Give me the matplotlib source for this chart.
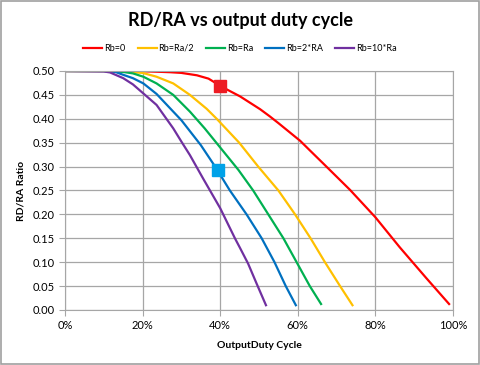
import matplotlib.pyplot as plt
from matplotlib.ticker import PercentFormatter

plt.rcParams['font.family'] = ['Lato', 'DejaVu Sans']

# duty cycle (fraction) vs RD/RA ratio
d_rb0 = [0, 0.1, 0.15, 0.2, 0.236, 0.27, 0.30, 0.34, 0.37, 0.40, 0.425, 0.451, 0.503, 0.528, 0.55,
         0.606, 0.631, 0.67, 0.735, 0.80, 0.863, 0.932, 0.99]
r_rb0 = [0.5, 0.5, 0.5, 0.4995, 0.4985, 0.4975, 0.496, 0.491, 0.484, 0.469, 0.458, 0.447, 0.42, 0.405,
         0.391, 0.354, 0.334, 0.303, 0.251, 0.194, 0.131, 0.066, 0.0125]

d_half = [0, 0.1, 0.15, 0.2, 0.236, 0.279, 0.322, 0.365, 0.391, 0.449, 0.498, 0.55, 0.593, 0.633,
          0.67, 0.709, 0.741]
r_half = [0.5, 0.5, 0.499, 0.496, 0.488, 0.474, 0.45, 0.421, 0.40, 0.35, 0.30, 0.25, 0.20, 0.15,
          0.10, 0.05, 0.01]

d_one = [0, 0.1, 0.15, 0.175, 0.202, 0.236, 0.279, 0.322, 0.36, 0.40, 0.447, 0.485, 0.524, 0.563,
         0.597, 0.631, 0.66]
r_one = [0.5, 0.5, 0.498, 0.495, 0.488, 0.474, 0.45, 0.415, 0.38, 0.34, 0.293, 0.25, 0.20, 0.15,
         0.10, 0.05, 0.0125]

d_two = [0, 0.1, 0.13, 0.15, 0.175, 0.202, 0.236, 0.279, 0.30, 0.35, 0.387, 0.425, 0.468, 0.507,
         0.54, 0.569, 0.595]
r_two = [0.5, 0.5, 0.498, 0.492, 0.485, 0.474, 0.452, 0.415, 0.397, 0.345, 0.30, 0.25, 0.20, 0.15,
         0.10, 0.05, 0.01]

d_ten = [0, 0.1, 0.116, 0.15, 0.175, 0.202, 0.236, 0.279, 0.301, 0.322, 0.356, 0.40, 0.438, 0.451,
         0.472, 0.494, 0.518]
r_ten = [0.5, 0.499, 0.497, 0.485, 0.472, 0.453, 0.429, 0.38, 0.351, 0.324, 0.275, 0.213, 0.15,
         0.13, 0.097, 0.055, 0.01]

series = [
    ('Rb=0', d_rb0, r_rb0, '#FF0000'),
    ('Rb=Ra/2', d_half, r_half, '#FFC000'),
    ('Rb=Ra', d_one, r_one, '#00B050'),
    ('Rb=2*RA', d_two, r_two, '#0070C0'),
    ('Rb=10*Ra', d_ten, r_ten, '#7030A0'),
]

# highlighted points
mark_x = [0.40, 0.395]
mark_y = [0.468, 0.293]
mark_c = ['#ED1C24', '#00A2E8']

fig = plt.figure(figsize=(4.8, 3.65), dpi=100)
ax = fig.add_axes([0.1354, 0.1507, 0.8083, 0.6548])

for name, x, y, c in series:
    ax.plot(x, y, color=c, lw=1.6, label=name, solid_joinstyle='round')

for x, y, c in zip(mark_x, mark_y, mark_c):
    ax.plot(x, y, marker='s', ms=9, color=c, zorder=5)

ax.set_xlim(0, 1)
ax.set_ylim(0, 0.5)
ax.set_xticks([0, 0.2, 0.4, 0.6, 0.8, 1.0])
ax.set_yticks([i * 0.05 for i in range(11)])
ax.xaxis.set_major_formatter(PercentFormatter(1.0, decimals=0))
ax.yaxis.set_major_formatter(plt.FormatStrFormatter('%.2f'))
ax.grid(True, color='#A6A6A6', lw=0.9)
ax.set_axisbelow(True)
for s in ax.spines.values():
    s.set_color('#A6A6A6')
ax.tick_params(colors='#A6A6A6', labelcolor='black', labelsize=8, length=4)

ax.set_xlabel('OutputDuty Cycle', fontsize=7.5, fontweight='bold', labelpad=7)
ax.set_ylabel('RD/RA Ratio', fontsize=7.5, fontweight='bold', labelpad=5)

fig.text(0.5, 0.945, 'RD/RA vs output duty cycle', ha='center', va='center',
         fontsize=13, fontweight='bold')
fig.legend(loc='center', bbox_to_anchor=(0.5, 0.868), ncol=5, frameon=False,
           fontsize=6.5, handlelength=2.1, columnspacing=1.35, handletextpad=0.2)

fig.patches.append(plt.Rectangle((0.002, 0.003), 0.995, 0.994, transform=fig.transFigure,
                                 fill=False, edgecolor='#A0A0A0', lw=1.2))

fig.savefig('out.png', dpi=100)
